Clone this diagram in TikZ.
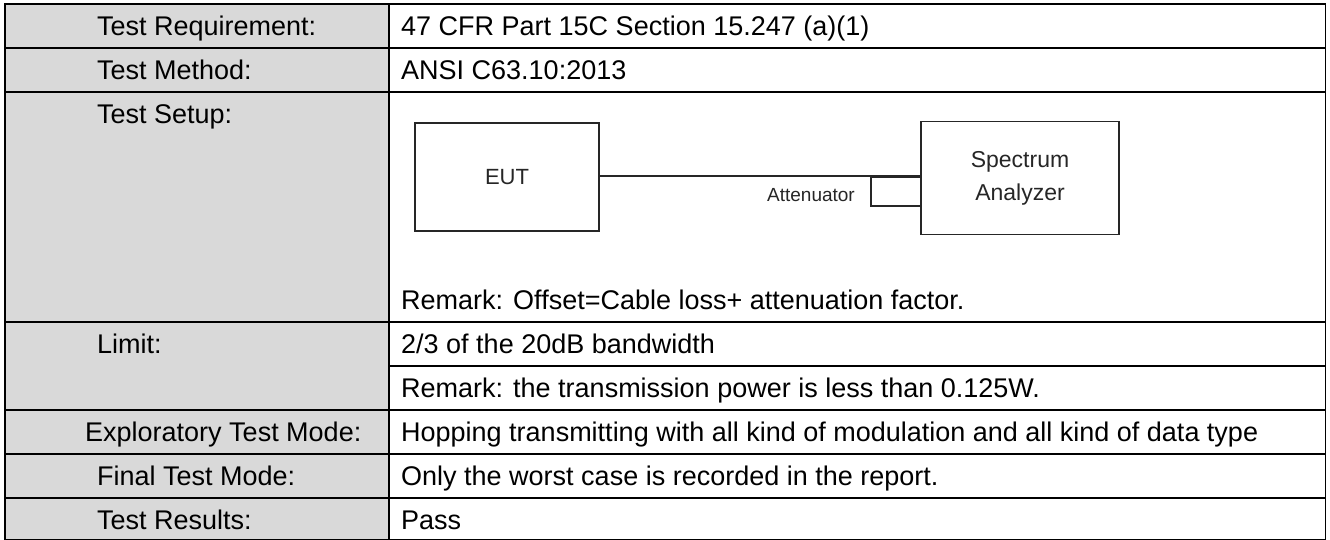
\documentclass[tikz,border=0pt]{standalone}
\usepackage{fontspec}
\setmainfont{Liberation Sans}
\definecolor{lgray}{HTML}{D9D9D9}
\definecolor{dgray}{HTML}{262626}
\begin{document}
\begin{tikzpicture}[x=1pt,y=-1pt,
  gridline/.style={draw=black,line width=1.3pt},
  lab/.style={anchor=west,inner sep=0pt,text height=19.3pt,text depth=0pt,font=\fontsize{27}{31}\selectfont},
  dbox/.style={draw=dgray,line width=1.6pt,inner sep=0pt},
  dtxt/.style={text=dgray,inner sep=0pt}
]
\useasboundingbox (0,0) rectangle (1330,540);
% left column fill
\fill[lgray] (5,4) rectangle (389,540);
% horizontal lines
\foreach \yy in {4,48,92,322,410,454,498,539.3}
  \draw[gridline] (4.35,\yy) -- (1326.15,\yy);
\draw[gridline] (389,366) -- (1326.15,366);
% vertical lines
\foreach \xx in {5,389,1325.5}
  \draw[gridline] (\xx,3.35) -- (\xx,540);
% left labels
\node[lab] (lreq) at (97,26) {Test Requirement:};
\node[lab] (lmeth) at (97,70) {Test Method:};
\node[lab] (lsetup) at (97,114) {Test Setup:};
\node[lab] (llimit) at (97,344) {Limit:};
\node[lab] (lexpl) at (85,432) {Exploratory Test Mode:};
\node[lab] (lfinal) at (97,476) {Final Test Mode:};
\node[lab] (lres) at (97,520) {Test Results:};
% right column
\node[lab] (rreq) at (401,26) {47 CFR Part 15C Section 15.247 (a)(1)};
\node[lab] (rmeth) at (401,70) {ANSI C63.10:2013};
\node[lab] (rrem1) at (401,300) {Remark: Offset=Cable loss+ attenuation factor.};
\node[lab] (rlimit) at (401,344) {2/3 of the 20dB bandwidth};
\node[lab] (rrem2) at (401,388) {Remark: the transmission power is less than 0.125W.};
\node[lab] (rexpl) at (401,432) {Hopping transmitting with all kind of modulation and all kind of data type};
\node[lab] (rfinal) at (401,476) {Only the worst case is recorded in the report.};
\node[lab] (rres) at (401,520) {Pass};
% setup diagram
\node[dbox,minimum width=184pt,minimum height=108pt] (eut) at (507,177) {};
\node[dtxt,font=\fontsize{22}{26}\selectfont] (eutt) at (eut.center) {EUT};
\node[dbox,minimum width=50pt,minimum height=29pt] (att) at (896,191.5) {};
\node[dbox,minimum width=198pt,minimum height=113pt] (sa) at (1020,178) {};
\node[dtxt,align=center,font=\fontsize{23}{33}\selectfont] (sat) at (sa.center) {Spectrum\\Analyzer};
\node[dtxt,anchor=east,font=\fontsize{19}{22}\selectfont] (attl) at (855,195) {Attenuator};
\draw[dgray,line width=1.6pt] (eut.east |- att.north) -- (att.north east);
\end{tikzpicture}
\end{document}
